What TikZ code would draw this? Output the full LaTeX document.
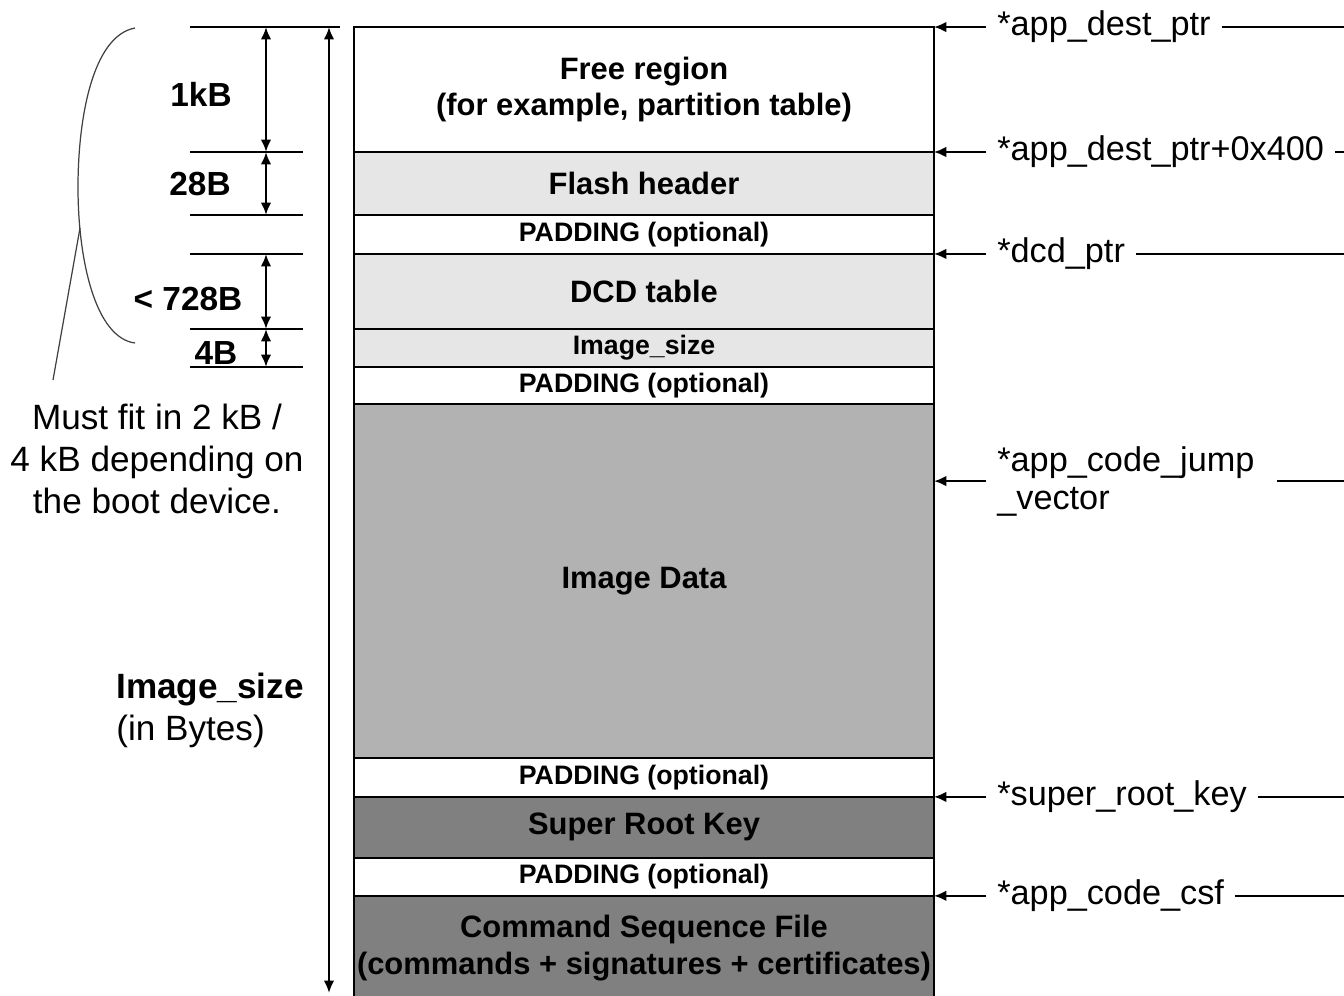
\documentclass[tikz,border=0pt]{standalone}
\usepackage{fontspec}
\setmainfont{Liberation Sans}
\usepackage{xcolor}
\usepackage{tikz}
\usetikzlibrary{positioning,calc,arrows.meta}
\definecolor{HdrGray}{RGB}{230,230,230}
\definecolor{DataGray}{RGB}{178,178,178}
\definecolor{KeyGray}{RGB}{128,128,128}
\tikzset{
    region/.style={rectangle, draw=black, line width=1.4pt, fill=white, minimum width=11.6cm, inner sep=0pt, outer sep=0pt, align=center, font=\fontsize{17.6}{21}\selectfont\bfseries},
    padregion/.style={region, minimum height=0.78cm, font=\fontsize{15.2}{17}\selectfont\bfseries},
    ptrlabel/.style={inner sep=6pt, align=left, font=\fontsize{19.5}{21.5}\selectfont},
    ptr/.style={-{Latex[length=7pt,width=6pt]}, line width=1.2pt},
    ptrline/.style={line width=1.2pt}
}

\begin{document}
\begin{tikzpicture}[
        x=0.02cm, y=-0.02cm,
        % Ticks and size arrows on the left
        tick/.style={line width=1.3pt},
        dim/.style={{Latex[length=7pt,width=6pt]}-{Latex[length=7pt,width=6pt]}, line width=1.3pt},
        dimlabel/.style={inner sep=0pt, font=\fontsize{19}{22}\selectfont\bfseries},
        note/.style={inner sep=0pt, align=center, font=\fontsize{20}{24}\selectfont},
        brace/.style={line width=0.7pt, draw=black!75}
    ]
    \useasboundingbox (0,0) rectangle (1344,995);

    % --- MEMORY LAYOUT ---
    \node[region, minimum height=2.5cm] (free) at (644,89.5) {Free region\\(for example, partition table)};
    \node[region, fill=HdrGray, minimum height=1.26cm, below=0pt of free] (flash) {Flash header};
    \node[padregion, below=0pt of flash] (pad1) {PADDING (optional)};
    \node[region, fill=HdrGray, minimum height=1.5cm, below=0pt of pad1] (dcd) {DCD table};
    \node[padregion, fill=HdrGray, minimum height=0.76cm, below=0pt of dcd] (isize) {Image\_size};
    \node[padregion, minimum height=0.74cm, below=0pt of isize] (pad2) {PADDING (optional)};
    \node[region, fill=DataGray, minimum height=7.08cm, below=0pt of pad2] (img) {Image Data};
    \node[padregion, below=0pt of img] (pad3) {PADDING (optional)};
    \node[region, fill=KeyGray, minimum height=1.22cm, below=0pt of pad3] (srk) {Super Root Key};
    \node[padregion, minimum height=0.76cm, below=0pt of srk] (pad4) {PADDING (optional)};
    \node[region, fill=KeyGray, minimum height=2.1cm, below=0pt of pad4] (csf) {Command Sequence File\\(commands + signatures + certificates)};

    % --- POINTERS ON THE RIGHT ---
    \coordinate (rim) at (1344,0);
    \coordinate (jv) at ($(img.north east)!0.218!(img.south east)$);
    \node[ptrlabel, right=1.05cm of free.north east] (ldest) {*app\_dest\_ptr};
    \node[ptrlabel, right=1.05cm of flash.north east] (ldest4) {*app\_dest\_ptr+0x400};
    \node[ptrlabel, right=1.05cm of dcd.north east] (ldcd) {*dcd\_ptr};
    \node[ptrlabel, right=1.05cm of jv] (ljump) {*app\_code\_jump\\\_vector};
    \node[ptrlabel, right=1.05cm of srk.north east] (lsrk) {*super\_root\_key};
    \node[ptrlabel, right=1.05cm of csf.north east] (lcsf) {*app\_code\_csf};

    \draw[ptr] (ldest) -- (free.north east);
    \draw[ptr] (ldest4) -- (flash.north east);
    \draw[ptr] (ldcd) -- (dcd.north east);
    \draw[ptr] (ljump) -- (jv);
    \draw[ptr] (lsrk) -- (srk.north east);
    \draw[ptr] (lcsf) -- (csf.north east);

    \draw[ptrline] (ldest) -- (ldest -| rim);
    \draw[ptrline] (ldest4) -- (ldest4 -| rim);
    \draw[ptrline] (ldcd) -- (ldcd -| rim);
    \draw[ptrline] ($(ljump.east)+(12,0)$) -- (ljump -| rim);
    \draw[ptrline] (lsrk) -- (lsrk -| rim);
    \draw[ptrline] (lcsf) -- (lcsf -| rim);

    % --- SIZES ON THE LEFT ---
    \coordinate (tl) at (190,0);
    \coordinate (tr) at (303,0);
    \coordinate (tt) at (340,0);
    \coordinate (dx) at (266,0);
    \coordinate (bx) at (329,0);
    \coordinate (sizeend) at (329,993);

    \draw[tick] (free.north -| tl) -- (free.north -| tt);
    \foreach \r/\a in {flash/north, flash/south, dcd/north, dcd/south, isize/south}
        \draw[tick] (\r.\a -| tl) -- (\r.\a -| tr);

    \draw[dim] (free.north -| dx) -- (flash.north -| dx);
    \draw[dim] (flash.north -| dx) -- (flash.south -| dx);
    \draw[dim] (dcd.north -| dx) -- (dcd.south -| dx);
    \draw[dim] (isize.north -| dx) -- (isize.south -| dx);
    \draw[dim] (free.north -| bx) -- (sizeend);

    \node[dimlabel] (lkb) at (201,94) {1kB};
    \node[dimlabel] (l28) at (200,184) {28B};
    \node[dimlabel] (l728) at (188,299) {< 728B};
    \node[dimlabel] (l4) at (216,353) {4B};

    \node[note, align=left, anchor=west] (lsize) at (116,710) {\textbf{Image\_size}\\(in Bytes)};

    % Brace and note
    \draw[brace] (135,28) .. controls (92,36) and (78,120) .. (78,187)
        .. controls (78,262) and (96,338) .. (135,343);
    \draw[brace] (80,228) -- (53,380);
    \node[note] (fit) at (157,459) {Must fit in 2 kB /\\4 kB depending on\\the boot device.};

\end{tikzpicture}
\end{document}
